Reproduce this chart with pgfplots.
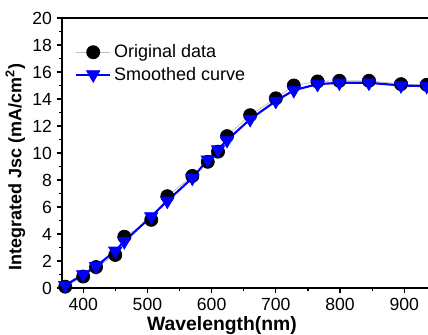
\documentclass[border=0pt]{standalone}
\usepackage{fontspec}
\setmainfont{Liberation Sans}
\usepackage{pgfplots}
\pgfplotsset{compat=1.18}
\definecolor{myblue}{RGB}{0,0,255}
\begin{document}
\begin{tikzpicture}
\begin{axis}[
  name=ax,
  scale only axis,
  width=274.5pt, height=202.5pt,
  xmin=367, xmax=937,
  ymin=0, ymax=20,
  axis x line*=box, axis y line*=left,
  axis line style={line width=1.1pt},
  xtick={400,500,600,700,800,900},
  ytick={0,2,4,6,8,10,12,14,16,18,20},
  minor tick num=1,
  tick align=outside,
  xtick pos=bottom, ytick pos=left,
  major tick length=4pt, minor tick length=2.5pt,
  tick style={line width=0.9pt, black},
  /pgf/number format/assume math mode=true,
  tick label style={font=\fontsize{13.2}{14}\selectfont},
  xlabel={\bfseries Wavelength(nm)},
  ylabel={\bfseries Integrated Jsc (mA/cm\textsuperscript{2})},
  label style={font=\fontsize{13.5}{15}\selectfont},
  xlabel style={at={(axis description cs:0.437,-0.1585)}, anchor=base, font=\fontsize{14.5}{16}\selectfont},
  ylabel style={at={(axis description cs:-0.1275,0.448)}, anchor=center},
  legend style={draw=none, fill=none, at={(axis description cs:0.035,0.912)}, anchor=north west,
    font=\fontsize{13.5}{15}\selectfont, row sep=1.5pt, inner sep=0pt},
  legend cell align=left,
  legend image code/.code={\draw[mark repeat=2,mark phase=2] plot coordinates {(0cm,0cm)(0.45cm,0cm)(0.9cm,0cm)};},
]
\addplot[color=black!25, line width=0.6pt, mark=*, mark size=4.9pt, mark options={fill=black, draw=black}] coordinates {
(372,0.1) (400,0.85) (420,1.55) (450,2.45) (464,3.8) (506,5.05) (531,6.8) (570,8.3) (594,9.35) (610,10.1)
(624,11.25) (660,12.8) (700,14.05) (728,15.0) (765,15.3) (799,15.35) (845,15.35) (895,15.1) (935,15.05)
};
\addlegendentry{Original data}
\addplot[color=myblue, line width=1.6pt, mark=triangle*, mark size=5.8pt, mark options={rotate=180, fill=myblue, draw=myblue, line width=0.5pt}] coordinates {
(372,0.2) (400,1.0) (420,1.6) (450,2.75) (464,3.45) (506,5.3) (531,6.45) (570,8.15) (594,9.5) (610,10.25)
(624,10.95) (660,12.5) (700,13.85) (728,14.65) (765,15.1) (799,15.2) (845,15.2) (895,15.0) (935,14.95)
};
\addlegendentry{Smoothed curve}
\end{axis}
\pgfresetboundingbox
\path[use as bounding box] ([xshift=-46.5pt,yshift=-34.5pt]ax.south west) rectangle ([yshift=13.5pt]ax.north east);
\end{tikzpicture}
\end{document}
